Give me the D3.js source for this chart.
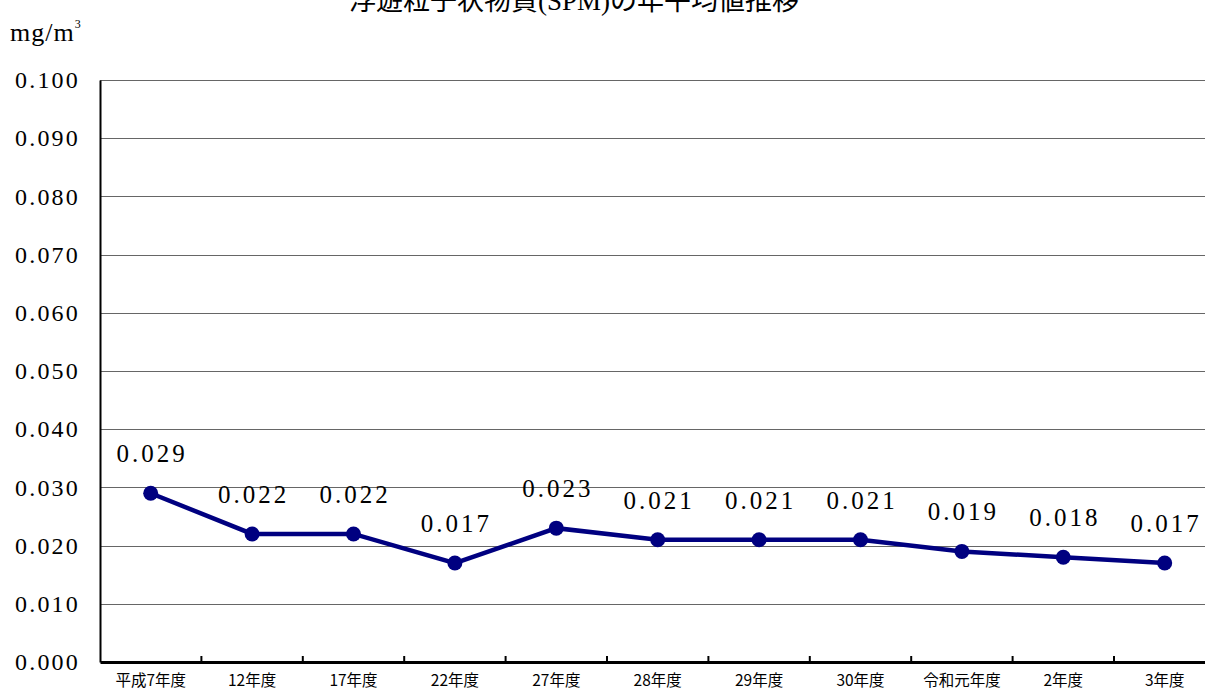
<!DOCTYPE html>
<html>
<head>
<meta charset="utf-8">
<script src="https://cdn.jsdelivr.net/npm/d3@7"></script>
<style>
  body { margin: 0; background: #fff; overflow: hidden; }
  text { font-family: "Liberation Serif", "DejaVu Serif", "Noto Sans CJK JP", serif; }
  .jp { font-family: "Noto Sans CJK JP", sans-serif; }
</style>
</head>
<body>
<div id="chart"></div>
<script>
// 浮遊粒子状物質(SPM)の年平均値推移
var w = 1205;
var h = 691;

var years = ["平成7年度", "12年度", "17年度", "22年度", "27年度", "28年度", "29年度", "30年度", "令和元年度", "2年度", "3年度"];
var spm = [0.029, 0.022, 0.022, 0.017, 0.023, 0.021, 0.021, 0.021, 0.019, 0.018, 0.017];
var yTicks = [0, 0.01, 0.02, 0.03, 0.04, 0.05, 0.06, 0.07, 0.08, 0.09, 0.1];

var plotLeft = 100, plotTop = 80, plotBottom = 662;
var plotRight = plotLeft + 101.4 * years.length;

var svg = d3.select("#chart").append("svg")
  .attr("width", w)
  .attr("height", h);

var x = d3.scaleBand().domain(years).range([plotLeft, plotRight]);
var y = d3.scaleLinear().domain([0, 0.1]).range([plotBottom, plotTop]);

// gridlines
svg.selectAll("line.grid")
  .data(yTicks.slice(1))
  .enter()
  .append("line")
  .attr("class", "grid")
  .attr("x1", plotLeft)
  .attr("x2", plotRight)
  .attr("y1", function(d) { return Math.round(y(d)) + 0.5; })
  .attr("y2", function(d) { return Math.round(y(d)) + 0.5; })
  .attr("stroke", "#666")
  .attr("stroke-width", 1);

// y axis
var yAxis = svg.append("g")
  .attr("transform", "translate(" + plotLeft + ",0)")
  .call(d3.axisLeft(y).tickValues(yTicks).tickSize(0).tickPadding(20)
    .tickFormat(function(d) { return d3.format(".3f")(d); }));
yAxis.select(".domain").attr("stroke", "#000").attr("stroke-width", 2);
yAxis.selectAll("text")
  .attr("font-size", 24)
  .attr("fill", "#000")
  .style("letter-spacing", "2.2px")
  .style("font-family", "'Liberation Serif', serif");

// x axis
var xAxis = svg.append("g")
  .attr("transform", "translate(0," + plotBottom + ")")
  .call(d3.axisBottom(x).tickSize(0).tickPadding(13));
xAxis.select(".domain").attr("stroke", "#000").attr("stroke-width", 3);
xAxis.selectAll("text")
  .attr("class", "jp")
  .attr("font-size", 15.5)
  .attr("fill", "#000");

// category boundary ticks
svg.selectAll("line.xtick")
  .data(years.slice(1))
  .enter()
  .append("line")
  .attr("class", "xtick")
  .attr("x1", function(d) { return x(d); })
  .attr("x2", function(d) { return x(d); })
  .attr("y1", plotBottom)
  .attr("y2", plotBottom - 6)
  .attr("stroke", "#000")
  .attr("stroke-width", 2);

// line
var line = d3.line()
  .x(function(d, i) { return x(years[i]) + x.bandwidth() / 2; })
  .y(function(d) { return y(d); });

svg.append("path")
  .datum(spm)
  .attr("d", line)
  .attr("fill", "none")
  .attr("stroke", "#000080")
  .attr("stroke-width", 4.5);

svg.selectAll("circle.pt")
  .data(spm)
  .enter()
  .append("circle")
  .attr("class", "pt")
  .attr("cx", function(d, i) { return x(years[i]) + x.bandwidth() / 2; })
  .attr("cy", function(d) { return y(d); })
  .attr("r", 7.5)
  .attr("fill", "#000080");

// value labels
svg.selectAll("text.val")
  .data(spm)
  .enter()
  .append("text")
  .attr("class", "val")
  .attr("x", function(d, i) { return x(years[i]) + x.bandwidth() / 2 + 1.5; })
  .attr("y", function(d) { return y(d) - 31; })
  .attr("text-anchor", "middle")
  .attr("font-size", 25)
  .style("letter-spacing", "3px")
  .attr("fill", "#000")
  .text(function(d) { return d3.format(".3f")(d); });

// title
svg.append("text")
  .attr("x", 574)
  .attr("y", 10)
  .attr("text-anchor", "middle")
  .attr("font-size", 27)
  .attr("fill", "#000")
  .text("浮遊粒子状物質(SPM)の年平均値推移");

// unit
var unit = svg.append("text")
  .attr("x", 10)
  .attr("y", 41)
  .attr("font-size", 26)
  .style("letter-spacing", "1px")
  .attr("fill", "#000");
unit.append("tspan").text("mg/m");
unit.append("tspan").attr("font-size", 12).attr("dy", -13).text("3");
</script>
</body>
</html>
